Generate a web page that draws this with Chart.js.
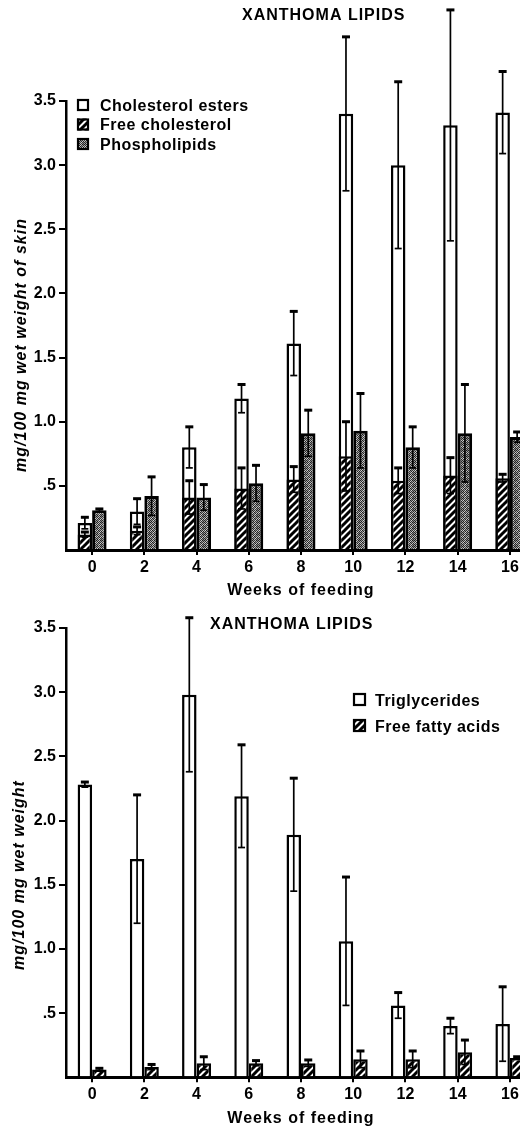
<!DOCTYPE html>
<html><head><meta charset="utf-8">
<script src="https://cdn.jsdelivr.net/npm/chart.js@4.4.1/dist/chart.umd.min.js"></script>
<style>
html,body{margin:0;padding:0;background:#fff;overflow:hidden;width:520px;height:1128px;position:relative;}
#c1{position:absolute;left:0;top:0;}
#c2{position:absolute;left:0;top:600px;}
</style></head><body>
<canvas id="c1" width="560" height="600"></canvas>
<canvas id="c2" width="560" height="528"></canvas>
<script>
// ---- data ----
const weeks = ['0', '2', '4', '6', '8', '10', '12', '14', '16'];
const yTickLabels = ['', '.5', '1.0', '1.5', '2.0', '2.5', '3.0', '3.5'];

const cholesterolEsters   = [0.21, 0.30, 0.80, 1.18, 1.61, 3.40, 3.00, 3.31, 3.41];
const cholesterolEstersSE = [0.045, 0.10, 0.16, 0.11, 0.25, 0.60, 0.65, 0.90, 0.32];
const freeCholesterol     = [0.12, 0.15, 0.41, 0.48, 0.55, 0.73, 0.54, 0.58, 0.56];
const freeCholesterolSE   = [0.02, 0.03, 0.13, 0.16, 0.10, 0.27, 0.10, 0.14, 0.03];
const phospholipids       = [0.31, 0.42, 0.41, 0.52, 0.91, 0.93, 0.80, 0.91, 0.88];
const phospholipidsSE     = [0.01, 0.15, 0.10, 0.14, 0.18, 0.29, 0.16, 0.38, 0.04];

const triglycerides       = [2.28, 1.70, 2.98, 2.19, 1.89, 1.06, 0.56, 0.40, 0.415];
const triglyceridesSE     = [0.02, 0.50, 0.60, 0.40, 0.44, 0.50, 0.10, 0.06, 0.29];
const freeFattyAcids      = [0.06, 0.08, 0.11, 0.11, 0.11, 0.14, 0.14, 0.195, 0.15];
const freeFattyAcidsSE    = [0.01, 0.02, 0.05, 0.02, 0.025, 0.065, 0.065, 0.095, 0.01];

// ---- styles ----
const FONT = '"Liberation Sans", Arial, Helvetica, sans-serif';

function hatchPattern() {
  const n = 7;
  const c = document.createElement('canvas'); c.width = n; c.height = n;
  const g = c.getContext('2d');
  g.fillStyle = '#fff'; g.fillRect(0, 0, n, n);
  g.strokeStyle = '#000'; g.lineWidth = 3;
  g.beginPath();
  g.moveTo(-1, n + 1); g.lineTo(n + 1, -1);
  g.moveTo(-1, 1); g.lineTo(1, -1);
  g.moveTo(n - 1, n + 1); g.lineTo(n + 1, n - 1);
  g.stroke();
  return g.createPattern(c, 'repeat');
}
function stipplePattern() {
  const m = [
    [30, 150, 50, 190, 25, 120],
    [170, 40, 200, 60, 160, 45],
    [60, 210, 25, 140, 55, 190],
    [190, 50, 160, 35, 200, 30],
    [40, 140, 70, 210, 45, 130],
    [160, 25, 190, 55, 150, 40]
  ];
  const c = document.createElement('canvas'); c.width = 6; c.height = 6;
  const g = c.getContext('2d');
  for (let r = 0; r < 6; r++) for (let q = 0; q < 6; q++) {
    const v = m[r][q]; g.fillStyle = 'rgb(' + v + ',' + v + ',' + v + ')'; g.fillRect(q, r, 1, 1);
  }
  return g.createPattern(c, 'repeat');
}

const errorBars = {
  id: 'errorBars',
  afterDatasetsDraw(chart) {
    const ctx = chart.ctx, ys = chart.scales.y;
    chart.data.datasets.forEach((ds, di) => {
      if (!ds.errors) return;
      const meta = chart.getDatasetMeta(di);
      meta.data.forEach((bar, i) => {
        const v = ds.data[i], e = ds.errors[i];
        if (e == null) return;
        const yt = ys.getPixelForValue(v + e), yb = ys.getPixelForValue(v - e);
        ctx.save();
        ctx.strokeStyle = '#000';
        ctx.lineWidth = 1.7;
        ctx.beginPath(); ctx.moveTo(bar.x, yt); ctx.lineTo(bar.x, yb); ctx.stroke();
        ctx.lineWidth = 3;
        ctx.beginPath(); ctx.moveTo(bar.x - 4, yt); ctx.lineTo(bar.x + 4, yt); ctx.stroke();
        ctx.lineWidth = 1.7;
        ctx.beginPath(); ctx.moveTo(bar.x - 3.5, yb); ctx.lineTo(bar.x + 3.5, yb); ctx.stroke();
        ctx.restore();
      });
    });
  }
};

const decor = {
  id: 'decor',
  afterDraw(chart, args, o) {
    const ctx = chart.ctx, a = chart.chartArea;
    ctx.save();
    ctx.fillStyle = '#000';
    ctx.textBaseline = 'alphabetic';
    ctx.font = 'bold 16px ' + FONT;
    ctx.letterSpacing = '1px';
    ctx.textAlign = 'left';
    ctx.fillText(o.title, o.titleX, o.titleY);
    ctx.textAlign = 'center';
    ctx.fillText(o.xTitle, (a.left + a.right) / 2, a.bottom + o.xTitleDy);
    ctx.save();
    ctx.translate(o.yTitleX, o.yTitleY);
    ctx.rotate(-Math.PI / 2);
    ctx.font = 'italic bold 16px ' + FONT;
    ctx.textBaseline = 'middle';
    ctx.fillText(o.yTitle, 0, 0);
    ctx.restore();
    // legend
    ctx.letterSpacing = '0.5px';
    ctx.textAlign = 'left';
    ctx.font = 'bold 16px ' + FONT;
    chart.data.datasets.forEach((ds, i) => {
      const by = o.legY + i * o.legRow;
      ctx.fillStyle = ds.backgroundColor;
      ctx.fillRect(o.legX, by, o.legBox, o.legBox);
      ctx.strokeStyle = '#000'; ctx.lineWidth = 2.2;
      ctx.strokeRect(o.legX + 1, by + 1, o.legBox - 2, o.legBox - 2);
      ctx.fillStyle = '#000';
      ctx.fillText(ds.label, o.legTextX, by + o.legBox - 0.5);
    });
    ctx.restore();
  }
};

function scalesFor(xHeight) {
  return {
    x: {
      type: 'category',
      offset: true,
      grid: { display: true, drawOnChartArea: false, drawTicks: true, tickLength: 5, offset: false, color: '#000', lineWidth: 2 },
      border: { display: true, color: '#000', width: 3 },
      ticks: { color: '#000', font: { family: FONT, size: 16, weight: 'bold' }, padding: 3, maxRotation: 0, autoSkip: false },
      afterFit(s) { s.height = xHeight; }
    },
    y: {
      min: 0, max: 3.5, stacked: false,
      grid: { display: true, drawOnChartArea: false, drawTicks: true, tickLength: 7, lineWidth: 2,
              color: c => (c.tick && c.tick.value === 0) ? 'rgba(0,0,0,0)' : '#000' },
      border: { display: true, color: '#000', width: 2.5 },
      ticks: { stepSize: 0.5, color: '#000', font: { family: FONT, size: 16, weight: 'bold' }, padding: 3,
               callback: (v, i) => yTickLabels[i] },
      afterFit(s) { s.width = 66; }
    }
  };
}

const hatch = hatchPattern();
const stipple = stipplePattern();

new Chart(document.getElementById('c1'), {
  type: 'bar',
  data: {
    labels: weeks,
    datasets: [
      { label: 'Cholesterol esters', data: cholesterolEsters, errors: cholesterolEstersSE, stack: 'a', order: 1,
        backgroundColor: '#fff', borderColor: '#000', borderWidth: 2.5 },
      { label: 'Free cholesterol', data: freeCholesterol, errors: freeCholesterolSE, stack: 'a', order: 0,
        backgroundColor: hatch, borderColor: '#000', borderWidth: 2.5 },
      { label: 'Phospholipids', data: phospholipids, errors: phospholipidsSE, stack: 'b', order: 2,
        backgroundColor: stipple, borderColor: '#000', borderWidth: 3 }
    ]
  },
  options: {
    responsive: false, animation: false,
    layout: { padding: { top: 101, right: 24, left: 0, bottom: 0 } },
    datasets: { bar: { categoryPercentage: 0.555, barPercentage: 1.0 } },
    scales: scalesFor(50),
    plugins: {
      legend: { display: false }, tooltip: { enabled: false },
      decor: { title: 'XANTHOMA LIPIDS', titleX: 242, titleY: 20,
               xTitle: 'Weeks of feeding', xTitleDy: 45,
               yTitle: 'mg/100 mg wet weight of skin', yTitleX: 22, yTitleY: 345,
               legX: 77, legY: 99, legRow: 19.5, legBox: 12, legTextX: 100 }
    }
  },
  plugins: [errorBars, decor]
});

new Chart(document.getElementById('c2'), {
  type: 'bar',
  data: {
    labels: weeks,
    datasets: [
      { label: 'Triglycerides', data: triglycerides, errors: triglyceridesSE,
        backgroundColor: '#fff', borderColor: '#000', borderWidth: 2.5 },
      { label: 'Free fatty acids', data: freeFattyAcids, errors: freeFattyAcidsSE,
        backgroundColor: hatch, borderColor: '#000', borderWidth: 2.5 }
    ]
  },
  options: {
    responsive: false, animation: false,
    layout: { padding: { top: 28, right: 24, left: 0, bottom: 0 } },
    datasets: { bar: { categoryPercentage: 0.555, barPercentage: 1.0 } },
    scales: scalesFor(50.7),
    plugins: {
      legend: { display: false }, tooltip: { enabled: false },
      decor: { title: 'XANTHOMA LIPIDS', titleX: 210, titleY: 29,
               xTitle: 'Weeks of feeding', xTitleDy: 45.5,
               yTitle: 'mg/100 mg wet weight', yTitleX: 20, yTitleY: 275,
               legX: 353, legY: 93, legRow: 26, legBox: 13, legTextX: 375 }
    }
  },
  plugins: [errorBars, decor]
});
</script>
</body></html>
